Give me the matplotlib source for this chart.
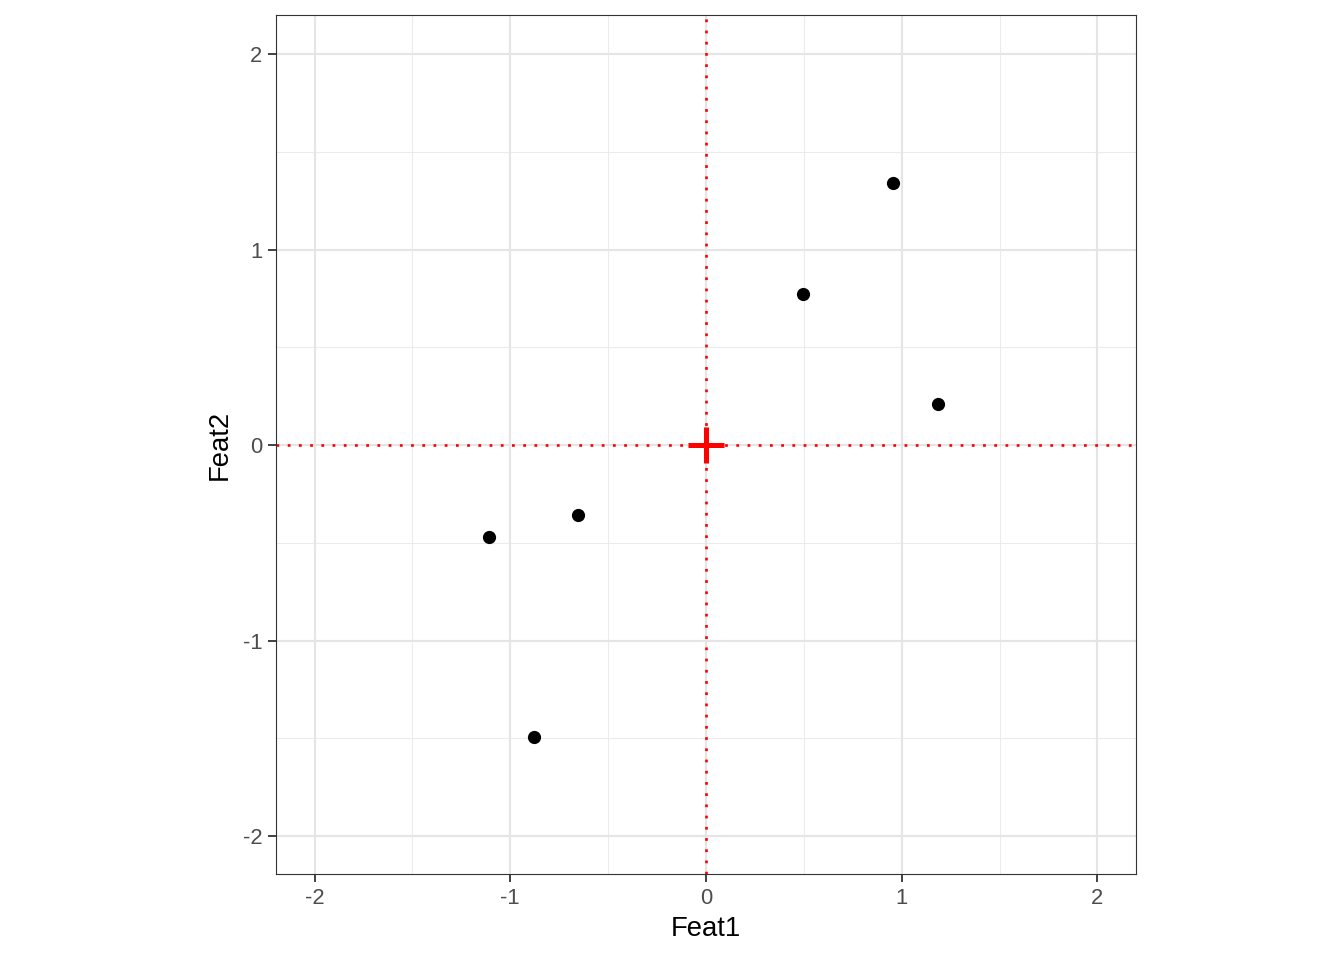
import matplotlib
matplotlib.use("Agg")
import matplotlib.pyplot as plt
import numpy as np

feat1 = [0.496, 0.955, 1.185, -0.654, -1.109, -0.879]
feat2 = [0.772, 1.340, 0.210, -0.358, -0.471, -1.494]
center = [0.0, 0.0]
major_ticks = [-2, -1, 0, 1, 2]
minor_ticks = [-1.5, -0.5, 0.5, 1.5]
tick_labels = ["-2", "-1", "0", "1", "2"]

plt.rcParams['font.family'] = ['Liberation Sans', 'DejaVu Sans']

fig = plt.figure(figsize=(13.44, 9.6), dpi=100)
ax = fig.add_axes([276/1344, (960-874)/960, (1136-276)/1344, (874-15)/960])

ax.set_xlim(-2.197, 2.197)
ax.set_ylim(-2.194, 2.2)

for v in minor_ticks:
    ax.axvline(v, color='#EBEBEB', lw=0.75, zorder=0)
    ax.axhline(v, color='#EBEBEB', lw=0.75, zorder=0)
for v in major_ticks:
    ax.axvline(v, color='#E5E5E5', lw=1.5, zorder=0)
    ax.axhline(v, color='#E5E5E5', lw=1.5, zorder=0)

ax.axvline(center[0], color='red', lw=1.9, linestyle=(0, (1.05, 3.2)), zorder=1)
ax.axhline(center[1], color='red', lw=1.9, linestyle=(0, (1.05, 3.2)), zorder=1)

ax.plot(feat1, feat2, 'o', color='black', markersize=9.5, markeredgewidth=0, zorder=3)
ax.plot([center[0]], [center[1]], '+', color='red', markersize=26, markeredgewidth=3.6, zorder=4)

ax.set_xticks(major_ticks)
ax.set_xticklabels(tick_labels)
ax.set_yticks(major_ticks)
ax.set_yticklabels(tick_labels)
ax.tick_params(axis='both', length=5.8, width=1.3, color='#333333', labelcolor='#4D4D4D', labelsize=15.8)
ax.tick_params(axis='x', pad=4.5)
ax.tick_params(axis='y', pad=4)

for s in ax.spines.values():
    s.set_color('#333333')
    s.set_linewidth(0.8)

ax.set_xlabel('Feat1', fontsize=19.8, color='black', labelpad=5)
ax.set_ylabel('Feat2', fontsize=19.8, color='black', labelpad=7)

fig.savefig('out.png', dpi=100)
